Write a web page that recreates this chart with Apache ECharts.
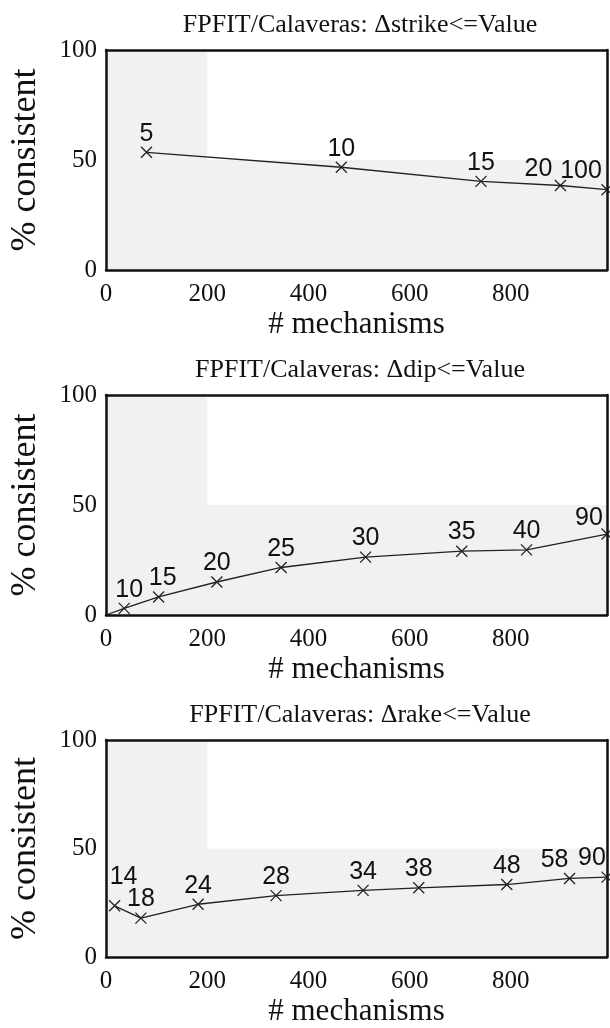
<!DOCTYPE html>
<html>
<head>
<meta charset="utf-8">
<script src="https://cdn.jsdelivr.net/npm/echarts@6/dist/echarts.min.js"></script>
<style>
  html, body { margin: 0; padding: 0; background: #fff; }
  #main { width: 610px; height: 1028px; }
</style>
</head>
<body>
<div id="main"></div>
<script>
// ---- data ----
var strikeX = [80, 465, 741, 898, 990];
var strikeY = [53.5, 46.7, 40.3, 38.4, 36.5];
var strikeLabels = ['5', '10', '15', '20', '100'];

// the dip curve starts from the origin (no marker there)
var dipX = [0, 36, 104, 219, 346, 513, 703, 831, 990];
var dipY = [0, 3.0, 8.2, 15.0, 21.6, 26.3, 29.0, 29.6, 36.8];
var dipLabels = ['', '10', '15', '20', '25', '30', '35', '40', '90'];

var rakeX = [17, 69, 182, 336, 508, 618, 792, 916, 990];
var rakeY = [23.6, 17.9, 24.3, 28.3, 30.7, 31.9, 33.4, 36.2, 36.8];
var rakeLabels = ['14', '18', '24', '28', '34', '38', '48', '58', '90'];

var titles = [
  'FPFIT/Calaveras: \u0394strike<=Value',
  'FPFIT/Calaveras: \u0394dip<=Value',
  'FPFIT/Calaveras: \u0394rake<=Value'
];
var xMin = 0, xMax = 990, xStep = 200;
var yMin = 0, yMax = 100, yStep = 50;
var shadeX = 200, shadeY = 50;   // white (unshaded) corner starts here

// ---- layout ----
var gridTops = [50, 395, 740];
var gridH = 220;
var SERIF = 'Liberation Serif';
var SANS = 'Liberation Sans';

// label nudges [dx, dy] by point index
var nudges = [
  {3: [-22, 2], 4: [-26, 0]},
  {1: [5, 0], 2: [4, 0], 8: [-18, 3]},
  {0: [9, -10], 7: [-15, 0], 8: [-15, 0]}
];

var panels = [
  {x: strikeX, y: strikeY, lab: strikeLabels},
  {x: dipX, y: dipY, lab: dipLabels},
  {x: rakeX, y: rakeY, lab: rakeLabels}
];

var chart = echarts.init(document.getElementById('main'));
var option = {
  backgroundColor: '#fff',
  animation: false,
  title: [], grid: [], xAxis: [], yAxis: [], series: []
};

var boxLine = {show: true, onZero: false, lineStyle: {color: '#111', width: 2.5}};

panels.forEach(function (p, i) {
  option.title.push({
    text: titles[i], left: 355, top: gridTops[i] - 43, textAlign: 'center',
    textStyle: {fontFamily: SERIF, fontSize: 26, fontWeight: 'normal', color: '#111'}
  });
  option.grid.push({
    left: 103, top: gridTops[i], width: 504, height: gridH,
    show: true, backgroundColor: '#f1f1f1', borderWidth: 0
  });
  // bottom / left axes carry labels; top / right only close the box
  option.xAxis.push({
    gridIndex: i, type: 'value', min: xMin, max: xMax, interval: xStep, z: 3,
    name: '# mechanisms', nameLocation: 'middle', nameGap: 39,
    nameTextStyle: {fontFamily: SERIF, fontSize: 31, color: '#111'},
    axisLine: boxLine,
    axisTick: {show: false}, splitLine: {show: false},
    axisLabel: {fontFamily: SERIF, fontSize: 25, color: '#111', margin: 12, showMaxLabel: false}
  });
  option.xAxis.push({
    gridIndex: i, type: 'value', position: 'top', min: xMin, max: xMax, z: 3,
    axisLine: boxLine,
    axisTick: {show: false}, axisLabel: {show: false}, splitLine: {show: false}
  });
  option.yAxis.push({
    gridIndex: i, type: 'value', min: yMin, max: yMax, interval: yStep, z: 3,
    name: '% consistent', nameLocation: 'middle', nameGap: 62, nameRotate: 90,
    nameTextStyle: {fontFamily: SERIF, fontSize: 36, color: '#111'},
    axisLine: boxLine,
    axisTick: {show: false}, splitLine: {show: false},
    axisLabel: {fontFamily: SERIF, fontSize: 25, color: '#111', margin: 9}
  });
  option.yAxis.push({
    gridIndex: i, type: 'value', position: 'right', min: yMin, max: yMax, z: 3,
    axisLine: boxLine,
    axisTick: {show: false}, axisLabel: {show: false}, splitLine: {show: false}
  });

  var data = p.x.map(function (xv, k) {
    var d = {value: [xv, p.y[k]], label: {formatter: p.lab[k]}};
    if (p.lab[k] === '') {
      d.symbol = 'none';
      d.label.show = false;
    }
    if (nudges[i][k]) d.label.offset = nudges[i][k];
    return d;
  });

  option.series.push({
    type: 'line', xAxisIndex: 2 * i, yAxisIndex: 2 * i, z: 2,
    data: data,
    symbol: 'path://M0 0L10 10M10 0L0 10', symbolSize: 11,
    itemStyle: {color: '#222', borderColor: '#222', borderWidth: 1.3},
    lineStyle: {color: '#222', width: 1.3},
    label: {show: true, position: 'top', distance: 0, fontFamily: SANS, fontSize: 25, color: '#111'},
    markArea: {
      silent: true,
      itemStyle: {color: '#ffffff'},
      data: [[{coord: [shadeX, shadeY]}, {coord: [xMax, yMax]}]]
    }
  });
});

chart.setOption(option);
</script>
</body>
</html>
